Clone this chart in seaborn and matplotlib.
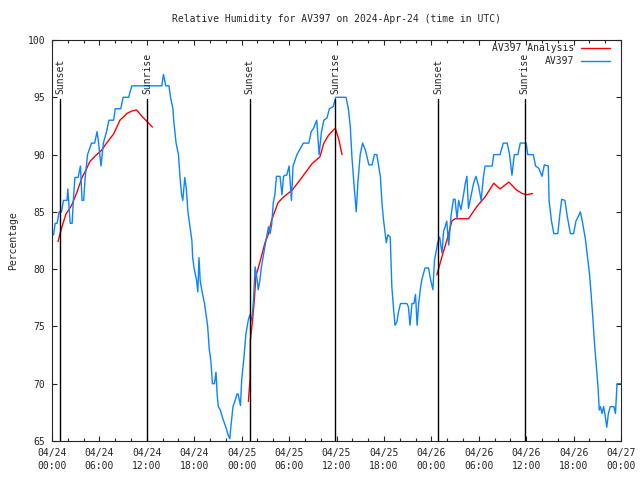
import pandas as pd
import matplotlib
matplotlib.use('Agg')
import matplotlib.pyplot as plt
import matplotlib.dates as mdates
from matplotlib.lines import Line2D
import seaborn as sns

# hours after 2024-04-24 00:00 UTC and relative humidity (%)
obs_hours = [0.0, 0.2, 0.4, 0.65, 0.9, 1.2, 1.45, 1.9, 2.0, 2.1, 2.3, 2.55, 2.7, 2.9, 3.3, 3.6,
             3.8, 4.0, 4.2, 4.5, 5.0, 5.4, 5.7, 5.9, 6.2, 6.5, 6.9, 7.2, 7.8, 8.0, 8.7, 9.0,
             9.7, 10.1, 10.5, 13.9, 14.1, 14.4, 14.8, 15.0, 15.3, 15.4, 15.7, 16.0, 16.2, 16.4,
             16.55, 16.8, 17.0, 17.2, 17.4, 17.7, 17.8, 18.0, 18.3, 18.45, 18.6, 18.75, 19.0,
             19.3, 19.5, 19.7, 19.9, 20.1, 20.3, 20.55, 20.75, 20.9, 21.05, 21.3, 21.6, 21.85,
             22.1, 22.3, 22.5, 22.6, 22.75, 22.9, 23.2, 23.4, 23.55, 23.7, 23.85, 24.0, 24.3,
             24.55, 24.85, 25.05, 25.2, 25.35, 25.5, 25.7, 25.9, 26.1, 26.3, 26.5, 26.95, 27.2,
             27.4, 27.6, 27.8, 28.0, 28.2, 28.4, 28.85, 29.1, 29.3, 29.5, 29.7, 30.0, 30.3,
             30.5, 31.0, 31.8, 32.5, 32.8, 33.1, 33.5, 33.8, 34.1, 34.4, 34.8, 35.1, 35.6,
             35.9, 37.2, 37.5, 37.75, 37.95, 38.2, 38.5, 38.7, 39.0, 39.3, 39.65, 40.1, 40.5,
             40.8, 41.1, 41.55, 41.75, 41.95, 42.3, 42.5, 42.8, 43.0, 43.2, 43.4, 43.65, 43.85,
             44.1, 44.9, 45.1, 45.3, 45.55, 45.8, 46.0, 46.2, 46.4, 46.6, 46.8, 47.2, 47.65,
             47.9, 48.2, 48.4, 48.6, 48.8, 49.05, 49.35, 49.55, 49.75, 49.95, 50.2, 50.5, 50.8,
             51.0, 51.25, 51.45, 51.75, 52.1, 52.3, 52.5, 52.7, 53.0, 53.35, 53.65, 54.0, 54.3,
             54.6, 54.8, 55.7, 55.9, 56.7, 57.1, 57.6, 57.9, 58.2, 58.5, 58.95, 59.25, 60.0,
             60.2, 60.9, 61.2, 61.6, 62.0, 62.3, 62.8, 62.9, 63.2, 63.5, 64.0, 64.3, 64.5,
             64.9, 65.2, 65.6, 66.0, 66.3, 66.6, 66.85, 67.1, 67.5, 67.7, 68.0, 68.2, 68.45,
             68.65, 68.9, 69.1, 69.25, 69.4, 69.6, 69.8, 70.0, 70.2, 70.4, 70.65, 71.1, 71.3,
             71.5, 72.0]
obs_rh = [83, 83, 84, 84, 85, 85, 86, 86, 87, 86, 84, 84, 86, 88, 88, 89,
          86, 86, 88, 90, 91, 91, 92, 91, 89, 91, 92, 93, 93, 94, 94, 95,
          95, 96, 96, 96, 97, 96, 96, 95, 94, 93, 91, 90, 88, 86.5,
          86, 88, 87, 85, 84, 82.5, 81, 80, 79, 78, 81, 79, 78,
          77, 76, 75, 73, 72, 70, 70, 71, 69, 68, 67.7, 67, 66.5,
          66, 65.5, 65.2, 66, 67, 68, 68.6, 69.1, 69.1, 68.6, 68.1, 70.3, 72.4,
          74.4, 75.6, 76, 75.5, 76, 77.3, 80.2, 79.4, 78.2, 79, 80.2, 82, 83,
          83.7, 83.1, 83.9, 85.8, 86.5, 88.1, 88.1, 86.5, 88.1, 88.2, 88.2, 89, 86,
          89, 90, 91, 91, 92, 92.3, 93, 90, 92, 93, 93.2, 94, 94.2,
          95, 95, 94, 92.4, 89.8, 87.5, 85, 87.5, 90, 91, 90.4, 89.1, 89.1,
          90, 90, 88.1, 85.8, 84.3, 82.3, 83, 82.8, 78.5, 76.7, 75.1, 75.4, 76.3,
          77, 77, 76.7, 75.1, 77, 77, 77.8, 75.1, 77, 78.2, 79.1, 80.1, 80.1,
          79.1, 78.2, 80.8, 81.5, 82.3, 82.8, 81.4, 83.3, 83.7, 84.2, 82.1, 84.7, 86.1,
          86.1, 84.4, 86, 85.2, 86.6, 87.5, 88.1, 85.3, 86.3, 87.5, 88.1, 87.2, 86,
          88.1, 89, 89, 90, 90, 91, 91, 90, 88.2, 90, 90, 91, 91,
          90, 90, 89, 88.8, 88.1, 89.1, 89, 86, 84.2, 83.1, 83.1, 85, 86.1,
          86, 84.6, 83.1, 83.1, 84.2, 84.6, 85, 84.2, 82.6, 81.4, 79.7, 78, 75.6,
          73.5, 71.4, 69.6, 67.7, 68, 67.4, 68, 67.2, 66.2, 67.4, 68, 68, 67.4,
          70, 70]

ana_hours = [0.76, 1.26, 1.76, 2.5, 3.15, 3.8, 4.4, 4.8, 5.5, 6.3, 6.9, 7.8, 8.6, 9.5, 10.1,
             10.7, 11.3, 12.0, 12.7,
             24.85, 25.05, 25.1, 25.4, 25.6, 25.8, 26.1, 26.5, 26.95, 27.4, 27.8, 28.6, 29.3,
             30.4, 31.4, 32.9, 33.9, 34.4, 35.0, 35.85, 36.3, 36.7,
             48.7, 49.35, 50.0, 50.6, 51.0, 52.7, 53.8, 54.8, 55.9, 56.7, 57.8, 58.8, 59.5,
             60.1, 60.8]
ana_rh = [82.4, 83.7, 84.8, 85.6, 86.7, 88, 88.8, 89.4, 89.9, 90.4, 91, 91.8, 93, 93.6, 93.8,
          93.9, 93.4, 92.9, 92.4,
          68.45, 70.3, 73.8, 75.7, 77.3, 79.4, 80.1, 81.1, 82.3, 83.1, 84.3, 85.8, 86.3,
          86.9, 87.8, 89.2, 89.8, 91, 91.7, 92.3, 91.3, 90,
          79.5, 81.1, 82.6, 84.2, 84.4, 84.4, 85.5, 86.3, 87.5, 87, 87.6, 86.9, 86.6,
          86.5, 86.6]
ana_run = [1] * 19 + [2] * 22 + [3] * 15

sunset_hours = [1.0, 25.0, 48.85]
sunrise_hours = [12.05, 35.85, 59.8]

start = pd.Timestamp('2024-04-24 00:00')
obs = pd.DataFrame({'time': start + pd.to_timedelta(obs_hours, unit='h'), 'rh': obs_rh})
ana = pd.DataFrame({'time': start + pd.to_timedelta(ana_hours, unit='h'), 'rh': ana_rh,
                    'run': ana_run})

red = '#ff0000'
blue = '#0a84ff'

sns.set_style('ticks')
plt.rcParams['font.family'] = ['DejaVu Sans Mono']
plt.rcParams['font.size'] = 7

fig = plt.figure(figsize=(6.4, 4.8), dpi=100)
ax = fig.add_axes([52 / 640, 1 - 441 / 480, 569 / 640, 401 / 480])

sns.lineplot(data=ana, x='time', y='rh', units='run', estimator=None, color=red,
             linewidth=1.0, ax=ax, legend=False)
sns.lineplot(data=obs, x='time', y='rh', color=blue, linewidth=1.0, ax=ax, legend=False)

# sun event markers start just under the 95 % line
top = (100 - 59 / 11.46 - 65) / 35
for h in sunset_hours + sunrise_hours:
    t = start + pd.Timedelta(hours=h)
    ax.axvline(t, ymin=0, ymax=top, color='black', linewidth=1.0)
    txt = 'Sunset' if h in sunset_hours else 'Sunrise'
    ax.text(t, 95.25, txt, rotation=90, ha='center', va='bottom', fontsize=7)

ax.set_xlim(start, start + pd.Timedelta(hours=72))
ax.set_ylim(65, 100)
ax.set_yticks(range(65, 101, 5))
ax.xaxis.set_major_locator(mdates.HourLocator(byhour=[0, 6, 12, 18]))
ax.xaxis.set_minor_locator(mdates.HourLocator(byhour=range(0, 24, 2)))
ax.xaxis.set_major_formatter(mdates.DateFormatter('%m/%d\n%H:%M'))
ax.tick_params(which='major', direction='in', length=3.5, width=0.8, top=True, right=True,
               labelsize=7, pad=5)
ax.tick_params(which='minor', direction='in', length=2, width=0.8, top=True, right=True)
for lab in ax.get_xticklabels():
    lab.set_linespacing(1.35)
for s in ax.spines.values():
    s.set_linewidth(0.8)

ax.set_xlabel('')
ax.set_ylabel('Percentage', fontsize=7)
ax.yaxis.set_label_coords(-34 / 569, 0.5)

fig.text(336.5 / 640, 1 - 19 / 480, 'Relative Humidity for AV397 on 2024-Apr-24 (time in UTC)',
         ha='center', va='center', fontsize=7)

handles = [Line2D([], [], color=red, linewidth=1.0), Line2D([], [], color=blue, linewidth=1.0)]
ax.legend(handles, ['AV397 Analysis', 'AV397'], loc='upper right',
          bbox_to_anchor=((610 - 52) / 569, (441 - 43) / 401), frameon=False,
          markerfirst=False, fontsize=7, borderaxespad=0, borderpad=0, handlelength=3.0,
          handletextpad=0.7, labelspacing=0.3)

fig.savefig('out.png', dpi=100)
